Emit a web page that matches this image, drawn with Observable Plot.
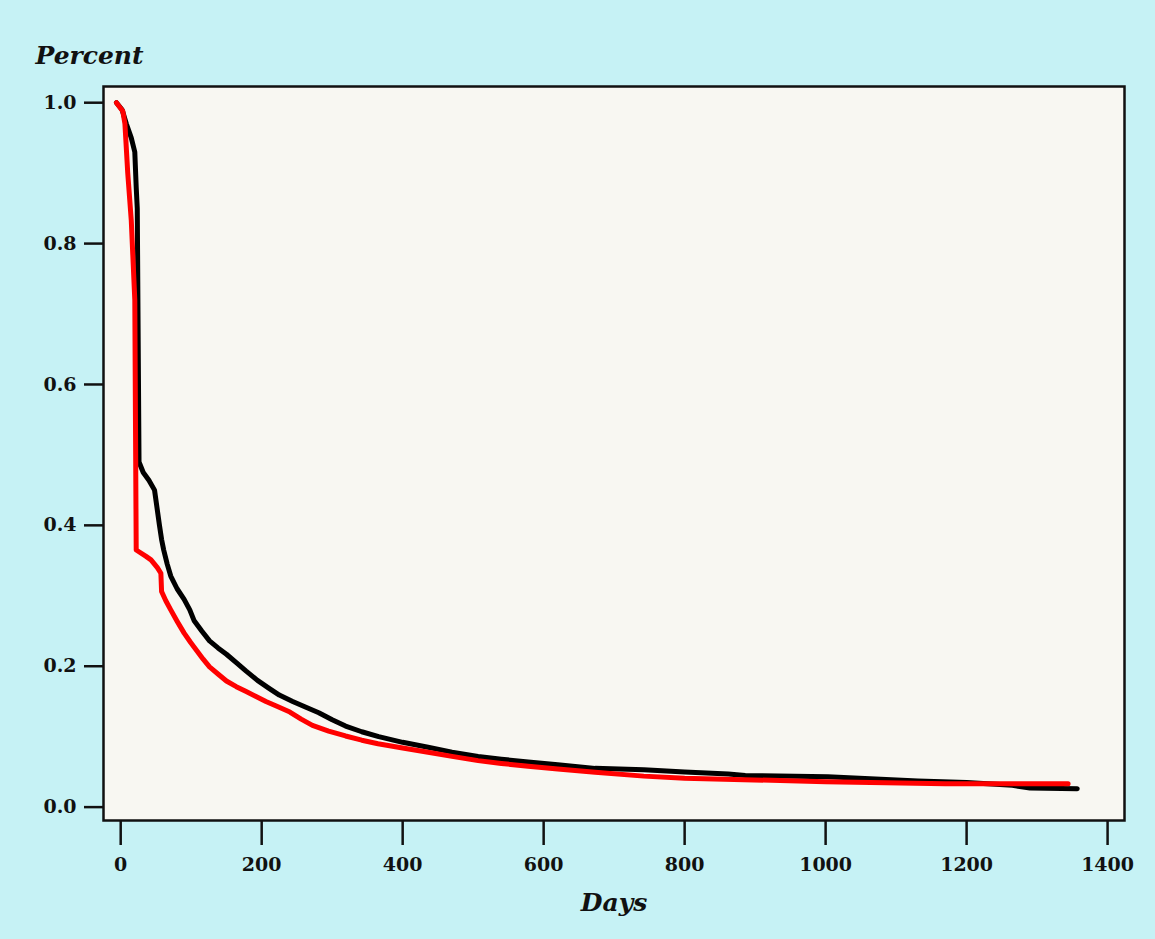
<!DOCTYPE html>
<html><head><meta charset="utf-8">
<script src="https://cdn.jsdelivr.net/npm/d3@7"></script>
<script src="https://cdn.jsdelivr.net/npm/@observablehq/plot@0.6"></script>
<style>
html,body{margin:0;padding:0;background:#c6f2f5;}
#chart svg{display:block;}
g[aria-label="x-axis label"] text{font-family:"DejaVu Serif";font-weight:bold;font-style:italic;font-size:25px;}
</style></head><body><div id="chart"></div>
<script>
// Group drawn in black (navy)
const blackDays = [-6, 2, 8, 15, 20, 22, 23.5, 26, 32, 40, 48, 55, 58, 61, 66, 71, 80, 90, 98, 104, 115, 126, 138, 150, 164, 178, 194, 210, 225, 244, 262, 281, 300, 319, 342, 366, 400, 436, 470, 507, 540, 578, 620, 673, 742, 800, 862, 886, 1003, 1131, 1200, 1265, 1290, 1357];
const blackPercent = [1.0, 0.99, 0.97, 0.95, 0.93, 0.88, 0.85, 0.49, 0.475, 0.464, 0.45, 0.40, 0.38, 0.365, 0.345, 0.328, 0.31, 0.295, 0.28, 0.265, 0.25, 0.236, 0.226, 0.217, 0.205, 0.193, 0.18, 0.169, 0.159, 0.15, 0.142, 0.134, 0.124, 0.115, 0.107, 0.100, 0.092, 0.085, 0.078, 0.072, 0.068, 0.064, 0.060, 0.055, 0.053, 0.050, 0.047, 0.045, 0.043, 0.037, 0.035, 0.031, 0.027, 0.026];
// Group drawn in red
const redDays = [-6, 3, 6, 10, 15, 20, 22, 36, 43, 52, 57, 58, 64, 71, 80, 90, 99, 108, 117, 126, 138, 150, 164, 178, 192, 206, 224, 240, 256, 272, 295, 319, 342, 365, 400, 436, 470, 507, 540, 578, 620, 673, 742, 800, 884, 1000, 1170, 1344];
const redPercent = [1.0, 0.988, 0.97, 0.90, 0.833, 0.72, 0.365, 0.356, 0.351, 0.34, 0.332, 0.306, 0.293, 0.28, 0.264, 0.247, 0.234, 0.222, 0.21, 0.199, 0.189, 0.179, 0.171, 0.164, 0.157, 0.150, 0.142, 0.135, 0.125, 0.116, 0.108, 0.101, 0.095, 0.090, 0.084, 0.078, 0.072, 0.066, 0.062, 0.058, 0.054, 0.0495, 0.044, 0.041, 0.039, 0.036, 0.033, 0.033];

const xTicks = [0, 200, 400, 600, 800, 1000, 1200, 1400];
const xTickLabels = ["0", "200", "400", "600", "800", "1000", "1200", "1400"];
const yTicks = [0, 0.2, 0.4, 0.6, 0.8, 1.0];
const yTickLabels = ["0.0", "0.2", "0.4", "0.6", "0.8", "1.0"];
const yTitle = "Percent";
const xTitle = "Days";
const groupNames = ["black", "red"];
const groupColors = ["#1a1d30", "#dd1441"];

const rows = [
  ...blackDays.map((d, i) => ({group: groupNames[0], day: d, pct: blackPercent[i]})),
  ...redDays.map((d, i) => ({group: groupNames[1], day: d, pct: redPercent[i]}))
];

const plot = Plot.plot({
  width: 1155, height: 939,
  marginLeft: 103, marginRight: 31, marginTop: 86, marginBottom: 119,
  style: {background: "#c6f2f5", fontFamily: "DejaVu Serif", fontWeight: "bold", fontSize: "19px", color: "#111"},
  x: {domain: [-24.4, 1424]},
  y: {domain: [-0.019, 1.023]},
  color: {domain: groupNames, range: groupColors},
  marks: [
    Plot.frame({fill: "#f8f7f2"}),
    Plot.line(rows, {x: "day", y: "pct", z: "group", stroke: "group", curve: "linear", strokeWidth: 5, strokeLinejoin: "round", strokeLinecap: "round"}),
    Plot.frame({stroke: "#111", strokeWidth: 2.5}),
    Plot.axisX({ticks: xTicks, tickFormat: (d, i) => xTickLabels[i], tickSize: 25, tickPadding: 12, strokeWidth: 2.5, fontSize: 19, label: xTitle, labelArrow: "none", labelAnchor: "center", labelOffset: 90}),
    Plot.axisY({ticks: yTicks, tickFormat: (d, i) => yTickLabels[i], tickSize: 19, tickPadding: 8, strokeWidth: 2.5, fontSize: 19, label: null}),
    Plot.text([yTitle], {text: d => d, frameAnchor: "top-left", textAnchor: "start", lineAnchor: "bottom", dx: -68, dy: -23, fontSize: 25, fontStyle: "italic", fontWeight: "bold", fontFamily: "DejaVu Serif", fill: "#111"})
  ]
});
document.getElementById("chart").appendChild(plot);
</script></body></html>
